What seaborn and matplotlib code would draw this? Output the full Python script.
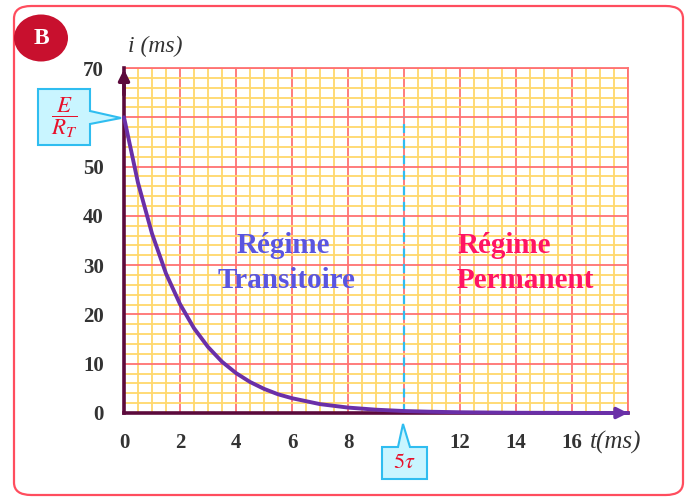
import matplotlib
matplotlib.use('Agg')
import matplotlib.pyplot as plt
import seaborn as sns
import pandas as pd
from matplotlib.patches import FancyBboxPatch, Ellipse, Polygon
from matplotlib.ticker import MultipleLocator

# ---- data ----
t_ms = [0, 0.5, 1, 1.5, 2, 2.5, 3, 3.5, 4, 4.5, 5, 5.5, 6, 7, 8, 9, 10, 11, 12, 14, 16, 18]
i_ma = [60, 46.7, 36.4, 28.3, 22.1, 17.2, 13.4, 10.4, 8.1, 6.3, 4.9, 3.8, 3.0, 1.8, 1.1, 0.67,
        0.4, 0.25, 0.15, 0.05, 0.02, 0.01]
x_ticks = [0, 2, 4, 6, 8, 10, 12, 14, 16, 18]
x_tick_labels = ['0', '2', '4', '6', '8', '', '12', '14', '16', '']
y_ticks = [0, 10, 20, 30, 40, 50, 60, 70]
y_tick_labels = ['0', '10', '20', '30', '40', '50', '', '70']
tau5 = 10
i_max = 60

sns.set_theme(style='white')
plt.rcParams['font.family'] = ['Liberation Serif', 'DejaVu Serif']
plt.rcParams['mathtext.fontset'] = 'stix'

W, H = 691, 501
fig = plt.figure(figsize=(W / 100, H / 100), dpi=100)
fig.patch.set_facecolor('white')


def fx(x):
    return x / W


def fy(y):
    return 1 - y / H


maroon = '#5c0a3c'
purple = '#6a2fa8'
red_grid = '#ff7272'
yel_grid = '#ffd86b'
cyan_fill = '#c9f5ff'
cyan_edge = '#2fbdf0'

ax = fig.add_axes([fx(124), fy(413), (628 - 124) / W, (413 - 68) / H])
ax.set_facecolor('white')

df = pd.DataFrame({'t': t_ms, 'i': i_ma})
sns.lineplot(data=df, x='t', y='i', ax=ax, color=purple, lw=2.8, zorder=6, clip_on=False)

ax.set_xlim(0, 18)
ax.set_ylim(0, 70)
ax.set_xticks(x_ticks)
ax.set_xticklabels(x_tick_labels)
ax.set_yticks(y_ticks)
ax.set_yticklabels(y_tick_labels)
ax.xaxis.set_minor_locator(MultipleLocator(0.5))
ax.yaxis.set_minor_locator(MultipleLocator(2))
ax.grid(which='minor', color=yel_grid, lw=1.3, zorder=0)
ax.grid(which='major', color=red_grid, lw=1.3, zorder=1)
ax.set_axisbelow(True)
ax.set_xlabel('')
ax.set_ylabel('')

for s in ['top', 'right']:
    ax.spines[s].set_color(red_grid)
    ax.spines[s].set_linewidth(1.3)
for s in ['left', 'bottom']:
    ax.spines[s].set_color(maroon)
    ax.spines[s].set_linewidth(2.6)
    ax.spines[s].set_zorder(5)

ax.tick_params(axis='both', which='major', direction='inout', length=7, width=2.2,
               color=maroon, labelsize=15, labelcolor='#333333')
ax.tick_params(axis='y', which='major', pad=11)
ax.tick_params(axis='x', which='major', pad=11)
for lab in ax.get_xticklabels() + ax.get_yticklabels():
    lab.set_fontweight('bold')
ax.tick_params(axis='both', which='minor', length=0)

# arrows
ax.annotate('', xy=(0, 70.3), xytext=(0, 64), annotation_clip=False,
            arrowprops=dict(arrowstyle='-|>', color=maroon, lw=2.6, mutation_scale=16), zorder=7)
ax.annotate('', xy=(18.1, 0), xytext=(17, 0), annotation_clip=False,
            arrowprops=dict(arrowstyle='-|>', color=purple, lw=2.6, mutation_scale=16), zorder=7)

# dashed 5 tau line
ax.plot([tau5, tau5], [0, i_max], ls=(0, (4, 3)), color=cyan_edge, lw=1.6, zorder=4)

# region labels
blue_txt = '#5a55e0'
pink_txt = '#ff1464'
ax.text(5.7, 32.5, 'Régime', ha='center', va='baseline', fontsize=21, fontweight='bold', color=blue_txt, zorder=8)
ax.text(5.8, 25.4, 'Transitoire', ha='center', va='baseline', fontsize=21, fontweight='bold', color=blue_txt, zorder=8)
ax.text(11.93, 32.5, 'Régime', ha='left', va='baseline', fontsize=21, fontweight='bold', color=pink_txt, zorder=8)
ax.text(11.86, 25.4, 'Permanent', ha='left', va='baseline', fontsize=21, fontweight='bold', color=pink_txt, zorder=8)

# axis labels
fig.text(fx(128), fy(46), 'i (ms)', ha='left', va='center', fontsize=17, style='italic', color='#333333')
fig.text(fx(590), fy(442), 't(ms)', ha='left', va='center', fontsize=18, style='italic', color='#333333')

# E/R_T callout
pts = [(38, 89), (90, 89), (90, 111), (121, 118), (90, 124), (90, 145), (38, 145)]
fig.patches.append(Polygon([(fx(a), fy(b)) for a, b in pts], closed=True, transform=fig.transFigure,
                           fc=cyan_fill, ec=cyan_edge, lw=1.5, zorder=10))
fig.text(fx(64), fy(118), r'$\dfrac{E}{R_T}$', ha='center', va='center', fontsize=16.5, color='#e8102a', zorder=11)

# 5 tau callout
pts2 = [(382, 447), (398, 447), (403, 424), (410, 447), (427, 447), (427, 479), (382, 479)]
fig.patches.append(Polygon([(fx(a), fy(b)) for a, b in pts2], closed=True, transform=fig.transFigure,
                           fc=cyan_fill, ec=cyan_edge, lw=1.5, zorder=10))
fig.text(fx(404.5), fy(463), r'$5\tau$', ha='center', va='center', fontsize=16, color='#e8102a', zorder=11)

# outer frame
fig.patches.append(FancyBboxPatch((fx(14), fy(495)), (683 - 14) / W, (495 - 6) / H,
                                  boxstyle='round,pad=0,rounding_size=0.025', transform=fig.transFigure,
                                  fc='none', ec='#ff4d5e', lw=1.6, zorder=9))
# badge
fig.patches.append(Ellipse((fx(41), fy(38)), 54 / W, 47 / H, transform=fig.transFigure,
                           fc='#c8102e', ec='none', zorder=12))
fig.text(fx(41), fy(38), 'B', ha='center', va='center', fontsize=17, fontweight='bold', color='white', zorder=13)

fig.savefig('out.png', dpi=100)
